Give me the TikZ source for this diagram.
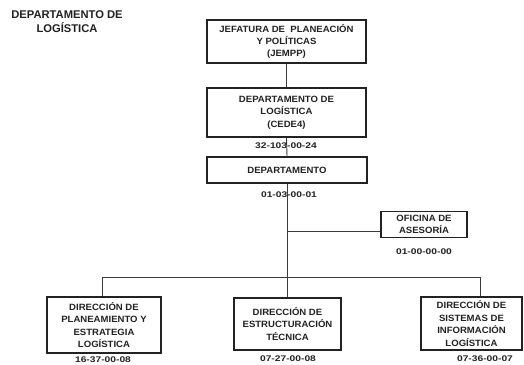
\documentclass[tikz,border=0pt]{standalone}
\usepackage{fontspec}
\setmainfont{Liberation Sans}
\newfontfamily\boxfont{Liberation Sans Bold}[FakeStretch=1.05]
\newfontfamily\codefont{Liberation Sans Bold}[FakeStretch=1.25]
\newfontfamily\titlefont{Liberation Sans Bold}
\definecolor{ink}{HTML}{222222}
\definecolor{wire}{HTML}{3A3A3A}
\begin{document}
\begin{tikzpicture}[x=1pt,y=-1pt,
  unit/.style={draw=ink,line width=1.4pt,inner sep=0pt,align=center,text=ink,
    font=\boxfont\fontsize{9.1}{12.4}\selectfont},
  code/.style={inner sep=0pt,text=ink,font=\codefont\fontsize{8.2}{10}\selectfont},
  link/.style={draw=wire,line width=0.9pt}]
\useasboundingbox[fill=white] (0,0) rectangle (524,364);
\node[inner sep=0pt,align=center,text=ink,font=\titlefont\fontsize{11.2}{13.8}\selectfont] (title) at (67,22) {DEPARTAMENTO DE\\LOGÍSTICA};
% top chain
\node[unit,minimum width=159pt,minimum height=43pt] (jempp) at (286.5,41.5) {JEFATURA DE \ PLANEACIÓN\\Y POLÍTICAS\\(JEMPP)};
\node[unit,minimum width=159pt,minimum height=49pt] (cede) at (286.5,112.5) {DEPARTAMENTO DE\\LOGÍSTICA\\(CEDE4)};
\node[unit,minimum width=160pt,minimum height=26pt] (dep) at (287,170) {DEPARTAMENTO};
\node[unit,minimum width=86pt,minimum height=26pt] (ofi) at (424,224.5) {OFICINA DE\\ASESORÍA};
% bottom boxes
\node[unit,minimum width=114pt,minimum height=56pt] (dpe) at (104,325) {DIRECCIÓN DE\\PLANEAMIENTO Y\\ESTRATEGIA\\LOGÍSTICA};
\node[unit,minimum width=107pt,minimum height=52pt] (det) at (287.5,324) {DIRECCIÓN DE\\ESTRUCTURACIÓN\\TÉCNICA};
\node[unit,minimum width=101pt,minimum height=53pt] (dsi) at (471.5,323.5) {DIRECCIÓN DE\\SISTEMAS DE\\INFORMACIÓN\\LOGÍSTICA};
% junction coordinates
\coordinate (jofi) at (287,231);
\coordinate (jbus) at (287,277);
\coordinate (bl) at (102,277);
\coordinate (br) at (480,277);
% connectors
\draw[link] (jempp.south) -- (cede.north);
\draw[link] (cede.south) -- (dep.north);
\draw[link] (dep.south) -- (jbus);
\draw[link] (jofi) -- (jofi -| ofi.west);
\draw[link] (bl) -- (br);
\draw[link] (bl) -- (bl |- dpe.north);
\draw[link] (jbus) -- (jbus |- det.north);
\draw[link] (br) -- (br |- dsi.north);
% codes
\node[code] (c1) at (286,146) {32-103-00-24};
\node[code] (c2) at (289,195) {01-03-00-01};
\node[code] (c3) at (424,252) {01-00-00-00};
\node[code] (c4) at (103,360) {16-37-00-08};
\node[code] (c5) at (288,359) {07-27-00-08};
\node[code] (c6) at (485,359) {07-36-00-07};
\end{tikzpicture}
\end{document}
